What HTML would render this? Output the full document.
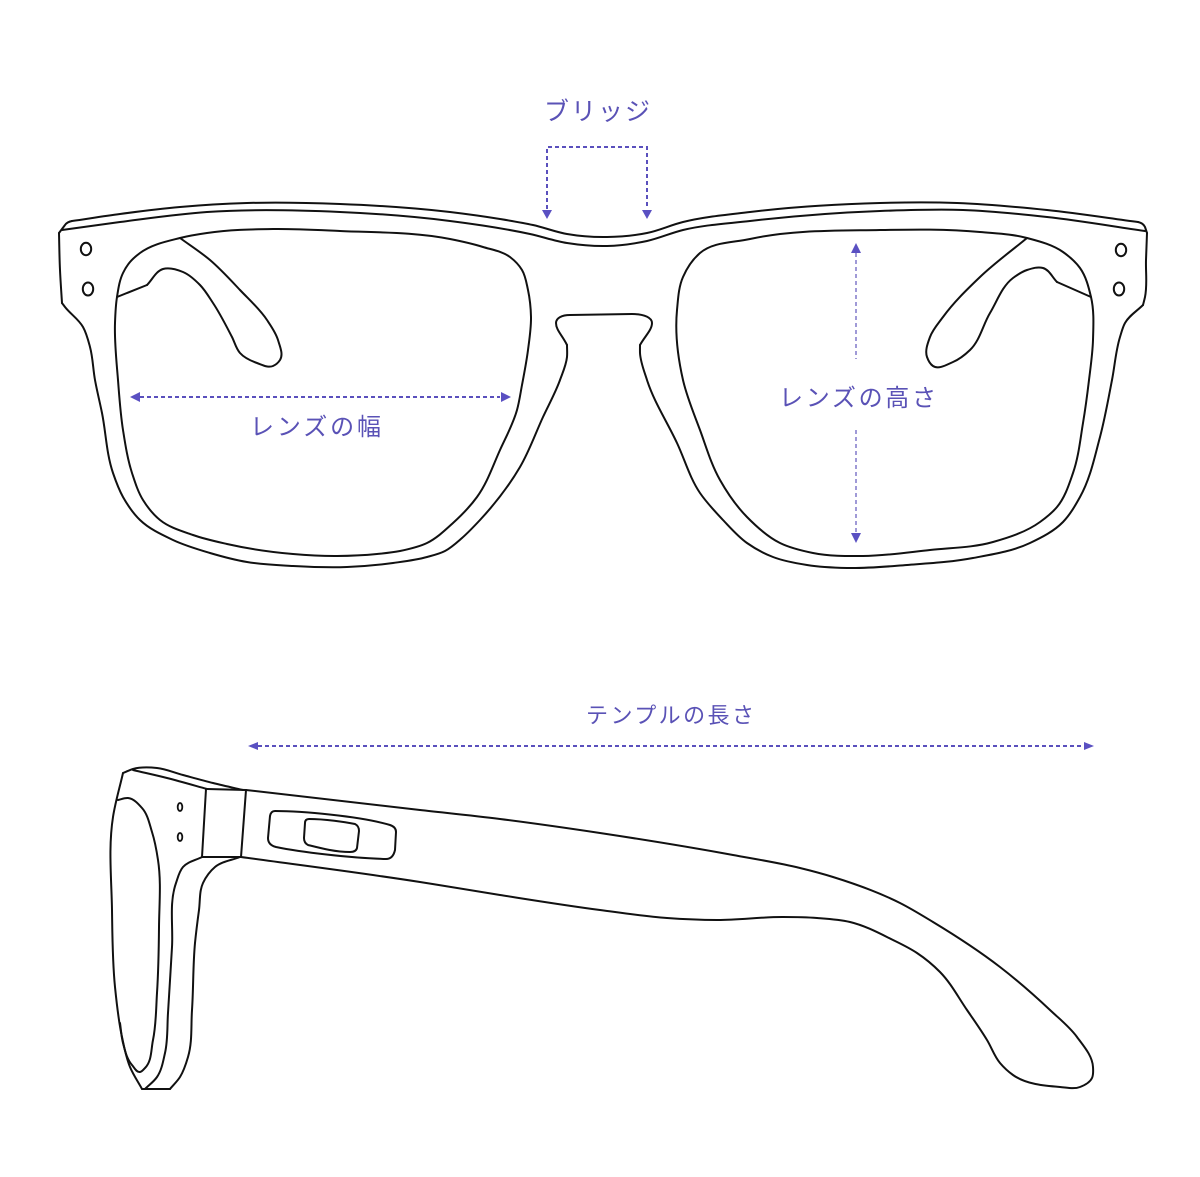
<!DOCTYPE html>
<html lang="ja">
<head>
<meta charset="utf-8">
<title>Glasses size diagram</title>
<style>
html,body{margin:0;padding:0;background:#fff;width:1200px;height:1177px;overflow:hidden}
svg{display:block}
.s{fill:none;stroke:#111;stroke-width:2;stroke-linejoin:round;stroke-linecap:round}
.d{fill:none;stroke:#5a50bd;stroke-width:2;stroke-dasharray:4 3}
.l{fill:none;stroke:#8f89d0;stroke-width:1.7;stroke-dasharray:4 3}
.a{fill:#5a50c2;stroke:none}
text{font-family:"Liberation Sans","Noto Sans CJK JP",sans-serif;fill:#5a52b6;font-weight:400}
</style>
</head>
<body>
<svg id="g" width="1200" height="1177" viewBox="0 0 1200 1177" xmlns="http://www.w3.org/2000/svg">
<rect width="1200" height="1177" fill="#fff"/>

<!-- front: top edges -->
<path class="s" d="M59 233L65 225Q67 222 72 221"/>
<polyline class="s" points="72,221 120,214 180,207 247,203 340,204 450,212 500,219 533,225 567,234 607,237 647,233 683,222 750,212 880,203 957,203 1047,210 1138,222"/>
<path class="s" d="M1138 222Q1143 223 1145 227L1147 233"/>
<polyline class="s" points="62,230 120,222 207,212 340,212 450,221 530,234 567,243 607,246 647,241 683,230 750,221 880,211 963,210 1047,217 1145,231"/>

<!-- front: outer left + bridge underside -->
<polyline class="s" points="59,233 60,270 62,303"/>
<polyline class="s" points="62,303 65,307 83,327 90,347 95,380 102,413 113,473 123,497 140,520 173,540 210,553 247,562 293,566 347,567 393,563 427,557 445,551 462,538 480,520 520,467 543,417 560,380 567,357 567,345"/>
<path class="s" d="M567 345C562 335 556 330 556 323C556 318 562 315 570 315L632 314C645 314 652 318 652 323C652 330 645 336 640 345"/>
<polyline class="s" points="640,345 640,353 647,380 677,443 700,493 723,520 747,543 773,557 807,565 847,568 907,565 973,558 1030,543 1063,522 1080,497 1100,437 1112,380 1120,337 1125,323 1143,305"/>
<polyline class="s" points="1143,305 1145,297 1146,260 1147,233"/>

<!-- front: left lens -->
<polyline class="s" points="117,297 123,273 130,262 140,253 180,238 207,233 273,229 340,231 450,239 483,247 510,257 522,270 528,290 531,317 528,350 522,385 517,410 500,450 477,497 453,523 427,543 400,551 377,554 337,556 293,554 227,544 193,535 160,520 143,500 132,473 123,430 118,380 115,323 117,297"/>
<!-- left nose pad -->
<polyline class="s" points="117,297 147,285"/>
<polyline class="s" points="147,285 163,269 183,272 200,285 213,303 232,337 240,353 257,363 273,366 280,360 278,340 267,320 240,290 210,260 180,238"/>

<!-- front: right lens -->
<polyline class="s" points="880,230 980,232 1027,238 1063,252 1080,268 1091,297 1093,340 1089,380 1083,423 1073,473 1057,507 1040,522 993,542 930,550 863,556 813,553 780,543 747,517 720,480 700,430 683,380 677,310 683,277 700,253 750,239 880,230"/>
<!-- right nose pad -->
<polyline class="s" points="1091,297 1057,282"/>
<polyline class="s" points="1057,282 1043,268 1027,270 1013,278 990,313 970,350 953,362 933,366 927,357 930,337 943,317 980,277 1027,238"/>

<!-- rivets -->
<ellipse cx="86" cy="249" rx="5.2" ry="6.2" fill="none" stroke="#111" stroke-width="2"/>
<ellipse cx="88" cy="289" rx="5.2" ry="6.5" fill="none" stroke="#111" stroke-width="2"/>
<ellipse cx="1121" cy="250" rx="5.2" ry="6.2" fill="none" stroke="#111" stroke-width="2"/>
<ellipse cx="1119" cy="289" rx="5.2" ry="6.5" fill="none" stroke="#111" stroke-width="2"/>

<!-- side view -->
<polyline class="s" points="123,773 113,817 112,910 115,987 122,1037 130,1067 142,1089"/>
<polyline class="s" points="142,1089 170,1089"/>
<polyline class="s" points="170,1089 180,1077 188,1057 192,1010 195,943 199,910 203,883 215,867 240,857"/>
<polyline class="s" points="123,773 133,769 157,768 183,775 213,783 243,790"/>
<polyline class="s" points="133,770 167,778 207,789"/>
<polyline class="s" points="207,789 246,790"/>
<polyline class="s" points="206,789 202,857"/>
<polyline class="s" points="246,790 241,857"/>
<polyline class="s" points="202,857 241,857"/>
<polyline class="s" points="202,857 183,867 176,883 172,947 168,1013 165,1053 157,1077 145,1089"/>
<polyline class="s" points="118,800 128,798 142,808 152,832 158,860 159,927 157,993 153,1040 145,1068 140,1072 132,1065 123,1043 120,1023"/>
<ellipse cx="180" cy="807" rx="2.3" ry="4" fill="none" stroke="#111" stroke-width="1.8"/>
<ellipse cx="180" cy="837" rx="2.3" ry="4" fill="none" stroke="#111" stroke-width="1.8"/>

<!-- logo -->
<path class="s" d="M275 811C300 811 360 816 390 825Q396 827 396 832L395 850Q393 859 386 859C350 858 300 852 276 847Q268 845 268 838L270 816Q271 811 275 811Z"/>
<path class="s" d="M309 819C325 819 345 822 355 824Q359 826 359 831L357 848Q356 852 350 852C335 852 320 848 308 845Q304 843 304 838L305 823Q305 819 309 819Z"/>

<!-- temple -->
<polyline class="s" points="246,790 420,810 500,819 600,833 733,855 800,868 833,877 900,903 933,922 1000,967 1050,1010 1077,1037 1093,1067 1092,1078 1080,1087 1060,1087 1013,1075 1000,1063 987,1040 967,1010 940,972 917,953 893,940 850,922 817,918 783,917 717,920 667,918 600,910 500,895 420,882 241,857"/>

<!-- bridge arrows -->
<path class="d" d="M547 209V147H647V209"/>
<polygon class="a" points="542,210 552,210 547,219"/>
<polygon class="a" points="642,210 652,210 647,219"/>

<!-- lens width arrow -->
<path class="d" d="M140 397H500"/>
<polygon class="a" points="130,397 140,392 140,402"/>
<polygon class="a" points="511,397 501,392 501,402"/>

<!-- lens height arrow -->
<path class="l" d="M856 253V359"/>
<path class="l" d="M856 430V533"/>
<polygon class="a" points="856,243 851,253 861,253"/>
<polygon class="a" points="856,543 851,533 861,533"/>

<!-- temple arrow -->
<path class="d" d="M258 746H1084"/>
<polygon class="a" points="248,746 258,742 258,750"/>
<polygon class="a" points="1094,746 1084,742 1084,750"/>

<!-- labels -->
<text x="544" y="120" font-size="25" textLength="106" lengthAdjust="spacing">ブリッジ</text>
<text x="250" y="435" font-size="24" textLength="131" lengthAdjust="spacing">レンズの幅</text>
<text x="779" y="406" font-size="24" textLength="157" lengthAdjust="spacing">レンズの高さ</text>
<text x="586" y="723" font-size="22" textLength="168" lengthAdjust="spacing">テンプルの長さ</text>
</svg>
<script>
(function(){
var NS="http://www.w3.org/2000/svg";
function unit(a,b){var x=b[0]-a[0],y=b[1]-a[1],l=Math.sqrt(x*x+y*y);return l?{x:x/l,y:y/l,l:l}:{x:0,y:0,l:0};}
var list=document.querySelectorAll("polyline.s");
for(var n=0;n<list.length;n++){
  var el=list[n],raw=el.getAttribute("points").trim().split(/\s+/),p=[];
  for(var i=0;i<raw.length;i++){var c=raw[i].split(",");p.push([+c[0],+c[1]]);}
  var N=p.length;
  var closed=N>3&&p[0][0]===p[N-1][0]&&p[0][1]===p[N-1][1];
  var tan=[];
  for(var k=0;k<N;k++){
    var prev=k>0?p[k-1]:(closed?p[N-2]:null);
    var next=k<N-1?p[k+1]:(closed?p[1]:null);
    var tx,ty;
    if(!prev){var u=unit(p[k],next);tx=u.x;ty=u.y;}
    else if(!next){var v=unit(prev,p[k]);tx=v.x;ty=v.y;}
    else{
      var a=unit(prev,p[k]),b=unit(p[k],next);
      tx=a.x*b.l+b.x*a.l;ty=a.y*b.l+b.y*a.l;
      var m=Math.sqrt(tx*tx+ty*ty)||1;tx/=m;ty/=m;
    }
    tan.push([tx,ty]);
  }
  var d="M"+p[0][0]+" "+p[0][1];
  for(var j=0;j<N-1;j++){
    var s=unit(p[j],p[j+1]).l/3;
    d+="C"+(p[j][0]+tan[j][0]*s).toFixed(1)+" "+(p[j][1]+tan[j][1]*s).toFixed(1)+" "+
        (p[j+1][0]-tan[j+1][0]*s).toFixed(1)+" "+(p[j+1][1]-tan[j+1][1]*s).toFixed(1)+" "+p[j+1][0]+" "+p[j+1][1];
  }
  var path=document.createElementNS(NS,"path");
  path.setAttribute("class","s");path.setAttribute("d",d);
  el.parentNode.replaceChild(path,el);
}
})();
</script>
</body>
</html>
